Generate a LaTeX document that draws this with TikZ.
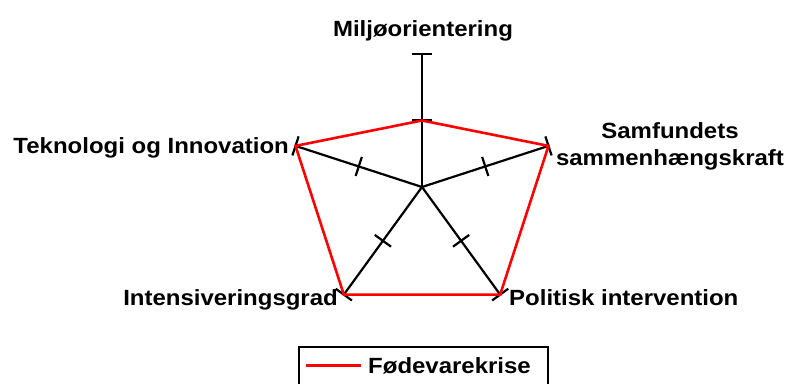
\documentclass[tikz,border=0pt]{standalone}
\usepackage{fontspec}
\setmainfont{Liberation Sans}[FakeStretch=1.09]
\usetikzlibrary{calc}
\begin{document}
\begin{tikzpicture}[x=1pt,y=-1pt,
 axis/.style={black,line width=2.2pt},
 tickmark/.style={black,line width=2.2pt},
 series/.style={red,line width=2.6pt,line join=miter},
 lbl/.style={font=\fontsize{22}{26.7}\selectfont\bfseries,inner sep=0pt}]
\useasboundingbox (0,0) rectangle (787,383);
\clip (0,0) rectangle (787,383);
\coordinate (C) at (422,187);
\foreach \n/\a in {A/90,B/18,E/162,D/-54,F/234} {
  \coordinate (\n) at ({422+133*cos(\a)},{187-133*sin(\a)});
  \coordinate (\n m) at ({422+66.5*cos(\a)},{187-66.5*sin(\a)});
}
\foreach \n in {A,B,D,E,F} {
  \draw[axis] (C) -- (\n);
  \draw[tickmark] ($(\n m)!10pt!90:(\n)$) -- ($(\n m)!10pt!-90:(\n)$);
  \draw[tickmark] ($(\n)!10pt!90:(C)$) -- ($(\n)!10pt!-90:(C)$);
}
\draw[series] (Am) -- (B) -- (D) -- (F) -- (E) -- cycle;
\node[lbl,anchor=base] (lA) at (423,36.7) {Miljøorientering};
\node[lbl,anchor=base east] (lE) at (289,153) {Teknologi og Innovation};
\node[lbl,align=center] (lB) at (670,146.3) {Samfundets\\sammenhængskraft};
\node[lbl,anchor=base east] (lF) at (338,305) {Intensiveringsgrad};
\node[lbl,anchor=base west] (lD) at (509,305) {Politisk intervention};
\node[draw,line width=2pt,minimum width=249pt,minimum height=50pt,anchor=north west,inner sep=0pt] (leg) at (298,345.5) {};
\coordinate (l1) at (306,365.3);
\coordinate (l2) at (361,365.3);
\draw[series] (l1) -- (l2);
\node[lbl,anchor=base west] (lt) at (368,373) {Fødevarekrise};
\end{tikzpicture}
\end{document}
